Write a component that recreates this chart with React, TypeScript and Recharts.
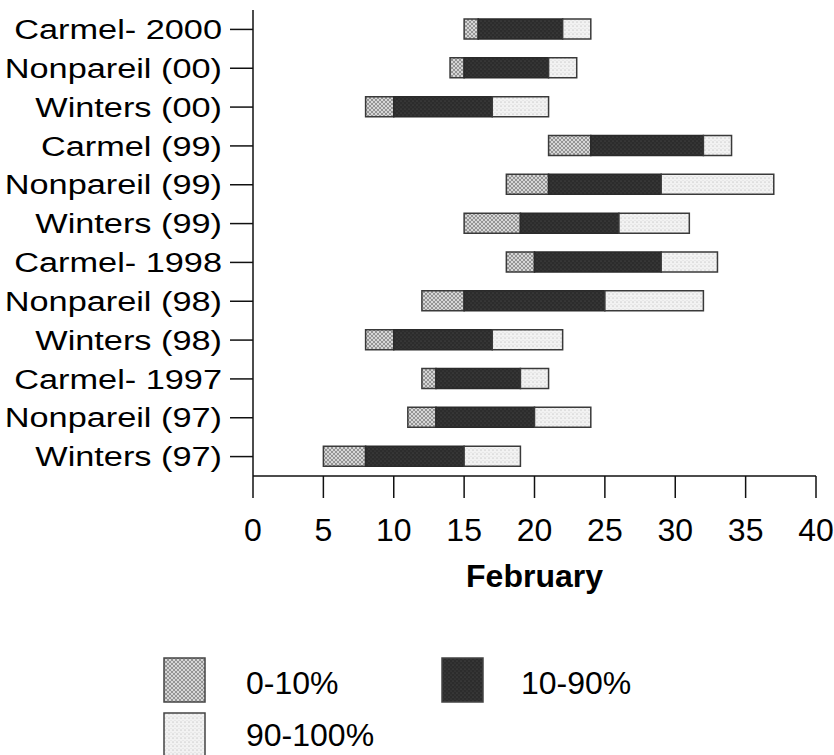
import { BarChart, Bar, XAxis, YAxis } from "recharts";

const categories = [
  "Carmel- 2000",
  "Nonpareil (00)",
  "Winters (00)",
  "Carmel (99)",
  "Nonpareil (99)",
  "Winters (99)",
  "Carmel- 1998",
  "Nonpareil (98)",
  "Winters (98)",
  "Carmel- 1997",
  "Nonpareil (97)",
  "Winters (97)",
];

// day in February where bloom starts, reaches 10%, 90%, and ends
const bloomStart = [15, 14, 8, 21, 18, 15, 18, 12, 8, 12, 11, 5];
const bloom10 = [16, 15, 10, 24, 21, 19, 20, 15, 10, 13, 13, 8];
const bloom90 = [22, 21, 17, 32, 29, 26, 29, 25, 17, 19, 20, 15];
const bloomEnd = [24, 23, 21, 34, 37, 31, 33, 32, 22, 21, 24, 19];

const xTicks = [0, 5, 10, 15, 20, 25, 30, 35, 40];

const legendItems = [
  { name: "0-10%", fill: "url(#pat-early)" },
  { name: "10-90%", fill: "url(#pat-full)" },
  { name: "90-100%", fill: "url(#pat-late)" },
];

const data = categories.map((name, i) => ({
  name,
  base: bloomStart[i],
  early: bloom10[i] - bloomStart[i],
  full: bloom90[i] - bloom10[i],
  late: bloomEnd[i] - bloom90[i],
}));

const FONT = "'Liberation Sans', Arial, Helvetica, sans-serif";

function CategoryTick(props: any) {
  const { x, y, payload } = props;
  return (
    <g transform={`translate(${x},${y}) scale(1.27,1)`}>
      <text
        x={0}
        y={0}
        dy="0.355em"
        textAnchor="end"
        fontSize={27}
        fontFamily={FONT}
        fill="#000"
      >
        {payload.value}
      </text>
    </g>
  );
}

function Patterns() {
  return (
    <svg width={0} height={0} style={{ position: "absolute" }}>
      <defs>
        <pattern id="pat-early" width="4" height="4" patternUnits="userSpaceOnUse">
          <rect width="4" height="4" fill="#d6d6d6" />
          <path d="M0 0L4 4M4 0L0 4" stroke="#8c8c8c" strokeWidth="0.9" />
        </pattern>
        <pattern id="pat-full" width="4" height="4" patternUnits="userSpaceOnUse">
          <rect width="4" height="4" fill="#2c2c2c" />
          <circle cx="1" cy="1" r="0.6" fill="#555" />
          <circle cx="3" cy="3" r="0.6" fill="#4a4a4a" />
        </pattern>
        <pattern id="pat-late" width="4" height="4" patternUnits="userSpaceOnUse">
          <rect width="4" height="4" fill="#f2f2f2" />
          <circle cx="1" cy="2" r="0.55" fill="#a8a8a8" />
          <circle cx="3" cy="0.5" r="0.4" fill="#c4c4c4" />
        </pattern>
      </defs>
    </svg>
  );
}

function LegendBlock() {
  const pos = [
    { sx: 164, sy: 658, tx: 246, ty: 694 },
    { sx: 442, sy: 658, tx: 521, ty: 694 },
    { sx: 164, sy: 713, tx: 246, ty: 746 },
  ];
  return (
    <svg
      width={834}
      height={755}
      style={{ position: "absolute", left: 0, top: 0, pointerEvents: "none" }}
    >
      {legendItems.map((item, i) => (
        <g key={item.name}>
          <rect
            x={pos[i].sx}
            y={pos[i].sy}
            width={41}
            height={44}
            fill={item.fill}
            stroke="#444"
            strokeWidth={1.5}
          />
          <text
            x={pos[i].tx}
            y={pos[i].ty}
            fontSize={32}
            fontFamily={FONT}
            fill="#000"
          >
            {item.name}
          </text>
        </g>
      ))}
    </svg>
  );
}

export default function App() {
  return (
    <div style={{ position: "absolute", left: 0, top: 0, width: 834, height: 755, background: "#fff" }}>
      <Patterns />
      <BarChart
        width={834}
        height={600}
        data={data}
        layout="vertical"
        margin={{ top: 10, right: 18, bottom: 0, left: 0 }}
        barSize={20}
      >
        <XAxis
          type="number"
          domain={[0, 40]}
          ticks={xTicks}
          interval={0}
          height={124}
          tickSize={22}
          tickMargin={20}
          stroke="#111"
          strokeWidth={1.5}
          tick={{ fontSize: 32, fontFamily: FONT, fill: "#000" }}
          label={{
            value: "February",
            position: "insideBottom",
            offset: 13,
            fontSize: 32,
            fontWeight: "bold",
            fontFamily: FONT,
            fill: "#000",
          }}
        />
        <YAxis
          type="category"
          dataKey="name"
          width={253}
          tickSize={23}
          tickMargin={8}
          interval={0}
          stroke="#111"
          strokeWidth={1.5}
          tick={<CategoryTick />}
        />
        <Bar dataKey="base" stackId="b" fill="transparent" isAnimationActive={false} />
        <Bar
          dataKey="early"
          stackId="b"
          fill="url(#pat-early)"
          stroke="#3a3a3a"
          strokeWidth={1.5}
          isAnimationActive={false}
        />
        <Bar
          dataKey="full"
          stackId="b"
          fill="url(#pat-full)"
          stroke="#2a2a2a"
          strokeWidth={1.5}
          isAnimationActive={false}
        />
        <Bar
          dataKey="late"
          stackId="b"
          fill="url(#pat-late)"
          stroke="#3a3a3a"
          strokeWidth={1.5}
          isAnimationActive={false}
        />
      </BarChart>
      <LegendBlock />
    </div>
  );
}
